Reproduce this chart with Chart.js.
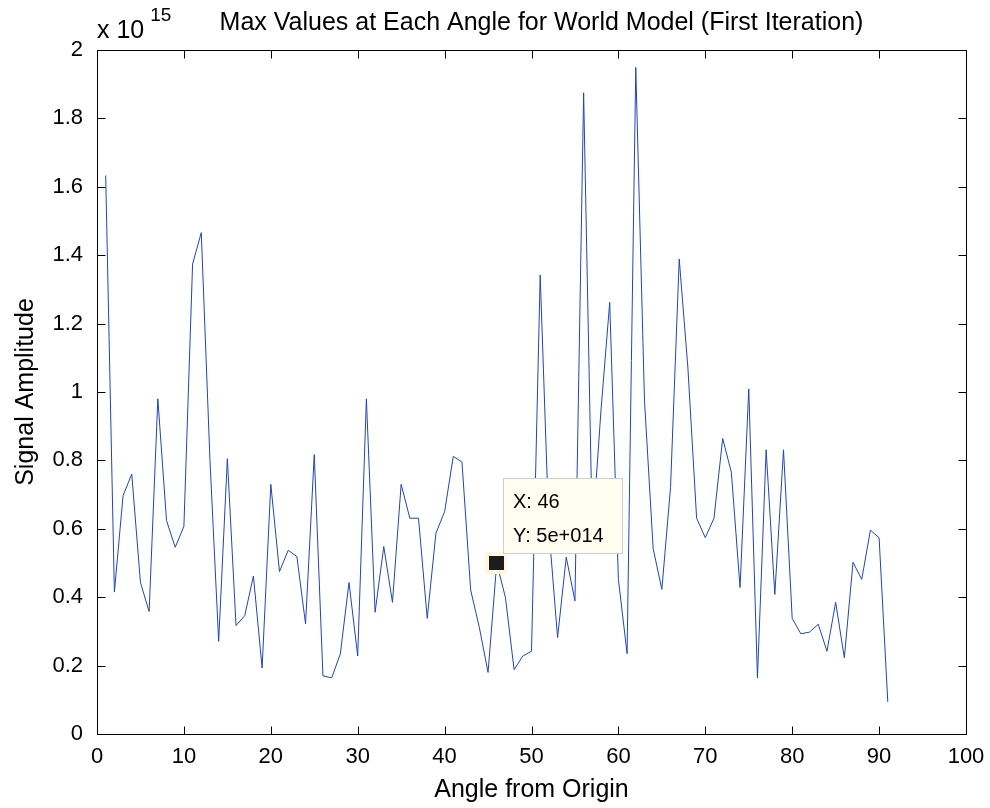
<!DOCTYPE html>
<html>
<head>
<meta charset="utf-8">
<script src="https://cdn.jsdelivr.net/npm/chart.js@4.4.1/dist/chart.umd.min.js"></script>
<style>
html,body{margin:0;padding:0;background:#fff;}
canvas{display:block;}
</style>
</head>
<body>
<canvas id="c" width="990" height="808"></canvas>
<script>
// ---- data (amplitudes in units of 1e15) ----
const angles = [1,2,3,4,5,6,7,8,9,10,11,12,13,14,15,16,17,18,19,20,
  21,22,23,24,25,26,27,28,29,30,31,32,33,34,35,36,37,38,39,40,
  41,42,43,44,45,46,47,48,49,50,51,52,53,54,55,56,57,58,59,60,
  61,62,63,64,65,66,67,68,69,70,71,72,73,74,75,76,77,78,79,80,
  81,82,83,84,85,86,87,88,89,90,91];
const amplitudes = [1.633,0.415,0.697,0.760,0.443,0.358,0.980,0.624,0.546,0.607,
  1.374,1.466,0.800,0.271,0.805,0.317,0.346,0.462,0.193,0.730,
  0.475,0.537,0.519,0.322,0.817,0.170,0.164,0.234,0.443,0.228,
  0.980,0.356,0.548,0.385,0.730,0.631,0.631,0.338,0.587,0.650,
  0.812,0.795,0.421,0.311,0.180,0.500,0.399,0.188,0.228,0.242,
  1.342,0.600,0.282,0.517,0.389,1.875,0.580,0.948,1.262,0.452,
  0.235,1.949,0.976,0.542,0.423,0.721,1.389,1.070,0.631,0.574,
  0.631,0.864,0.765,0.428,1.009,0.164,0.831,0.408,0.831,0.338,
  0.293,0.298,0.321,0.242,0.385,0.223,0.502,0.452,0.596,0.574,
  0.094];
const xTicks = [0,10,20,30,40,50,60,70,80,90,100];
const yTicks = [0,0.2,0.4,0.6,0.8,1,1.2,1.4,1.6,1.8,2];
const yTickLabels = ['0','0.2','0.4','0.6','0.8','1','1.2','1.4','1.6','1.8','2'];
const exponentBase = 'x 10';
const exponentPower = '15';
const chartTitle = 'Max Values at Each Angle for World Model (First Iteration)';
const xTitle = 'Angle from Origin';
const yTitle = 'Signal Amplitude';
const tipAngle = 46;
const tipAmplitude = 0.5;
const tipLines = ['X: 46', 'Y: 5e+014'];

const FONT = "'Liberation Sans', Arial, Helvetica, sans-serif";

const points = angles.map((a, i) => ({x: a, y: amplitudes[i]}));

const framePlugin = {
  id: 'frame',
  afterDatasetsDraw(chart) {
    const {ctx, chartArea: a, scales: {x, y}} = chart;
    const L = Math.round(a.left) + 0.5, R = Math.round(a.right) + 0.5;
    const T = Math.round(a.top) + 0.5, B = Math.round(a.bottom) + 0.5;
    const tl = 8;
    ctx.save();
    ctx.strokeStyle = '#000';
    ctx.lineWidth = 1;
    ctx.beginPath();
    ctx.rect(L, T, R - L, B - T);
    xTicks.forEach(v => {
      const px = Math.round(x.getPixelForValue(v)) + 0.5;
      ctx.moveTo(px, B); ctx.lineTo(px, B - tl);
      ctx.moveTo(px, T); ctx.lineTo(px, T + tl);
    });
    yTicks.forEach(v => {
      const py = Math.round(y.getPixelForValue(v)) + 0.5;
      ctx.moveTo(L, py); ctx.lineTo(L + tl, py);
      ctx.moveTo(R, py); ctx.lineTo(R - tl, py);
    });
    ctx.stroke();

    // title + exponent
    ctx.fillStyle = '#000';
    ctx.textBaseline = 'alphabetic';
    ctx.textAlign = 'center';
    ctx.font = '25px ' + FONT;
    ctx.fillText(chartTitle, (a.left + a.right) / 2 + 10, 30);
    ctx.textAlign = 'left';
    ctx.font = '25px ' + FONT;
    ctx.fillText(exponentBase, a.left, 38);
    const w = ctx.measureText(exponentBase).width;
    ctx.font = '19px ' + FONT;
    ctx.fillText(exponentPower, a.left + w + 6, 21);

    // data tip
    const px = x.getPixelForValue(tipAngle);
    const py = y.getPixelForValue(tipAmplitude);
    ctx.fillStyle = '#fbf8dc';
    ctx.fillRect(Math.round(px) - 12, Math.round(py) - 11, 22, 22);
    ctx.fillStyle = '#1e1b1d';
    ctx.fillRect(Math.round(px) - 8, Math.round(py) - 7, 15, 14);
    const bx = Math.round(px) + 6, by = Math.round(py) - 85;
    ctx.fillStyle = '#fffdf0';
    ctx.fillRect(bx, by, 119, 75);
    ctx.strokeStyle = '#cfcfcf';
    ctx.strokeRect(bx + 0.5, by + 0.5, 119, 75);
    ctx.fillStyle = '#000';
    ctx.font = '20px ' + FONT;
    ctx.fillText(tipLines[0], bx + 10, by + 30);
    ctx.fillText(tipLines[1], bx + 10, by + 64);
    ctx.restore();
  }
};

new Chart(document.getElementById('c'), {
  type: 'line',
  data: {
    datasets: [{
      data: points,
      borderColor: '#1f45b5',
      borderWidth: 1,
      pointRadius: 0,
      tension: 0,
      fill: false
    }]
  },
  options: {
    responsive: false,
    animation: false,
    devicePixelRatio: 1,
    layout: {padding: {left: 0, top: 50, right: 24, bottom: 0}},
    plugins: {legend: {display: false}, tooltip: {enabled: false}, title: {display: false}},
    scales: {
      x: {
        type: 'linear', min: 0, max: 100,
        afterBuildTicks: s => { s.ticks = xTicks.map(v => ({value: v})); },
        afterFit: s => { s.height = 74; s.paddingLeft = 0; s.paddingRight = 0; },
        grid: {display: false, drawTicks: false},
        border: {display: false},
        ticks: {color: '#000', font: {family: FONT, size: 22}, padding: 10, maxRotation: 0,
          callback: v => String(v)},
        title: {display: true, text: xTitle, color: '#000', font: {family: FONT, size: 25},
          padding: {top: 0, bottom: 3}}
      },
      y: {
        type: 'linear', min: 0, max: 2,
        afterBuildTicks: s => { s.ticks = yTicks.map(v => ({value: v})); },
        afterFit: s => { s.width = 97; s.paddingTop = 0; s.paddingBottom = 0; },
        grid: {display: false, drawTicks: false},
        border: {display: false},
        ticks: {color: '#000', font: {family: FONT, size: 22}, padding: 14,
          callback: (v) => yTickLabels[yTicks.findIndex(t => Math.abs(t - v) < 1e-9)]},
        title: {display: true, text: yTitle, color: '#000', font: {family: FONT, size: 25},
          padding: {top: 11, bottom: 0}}
      }
    }
  },
  plugins: [framePlugin]
});
</script>
</body>
</html>
